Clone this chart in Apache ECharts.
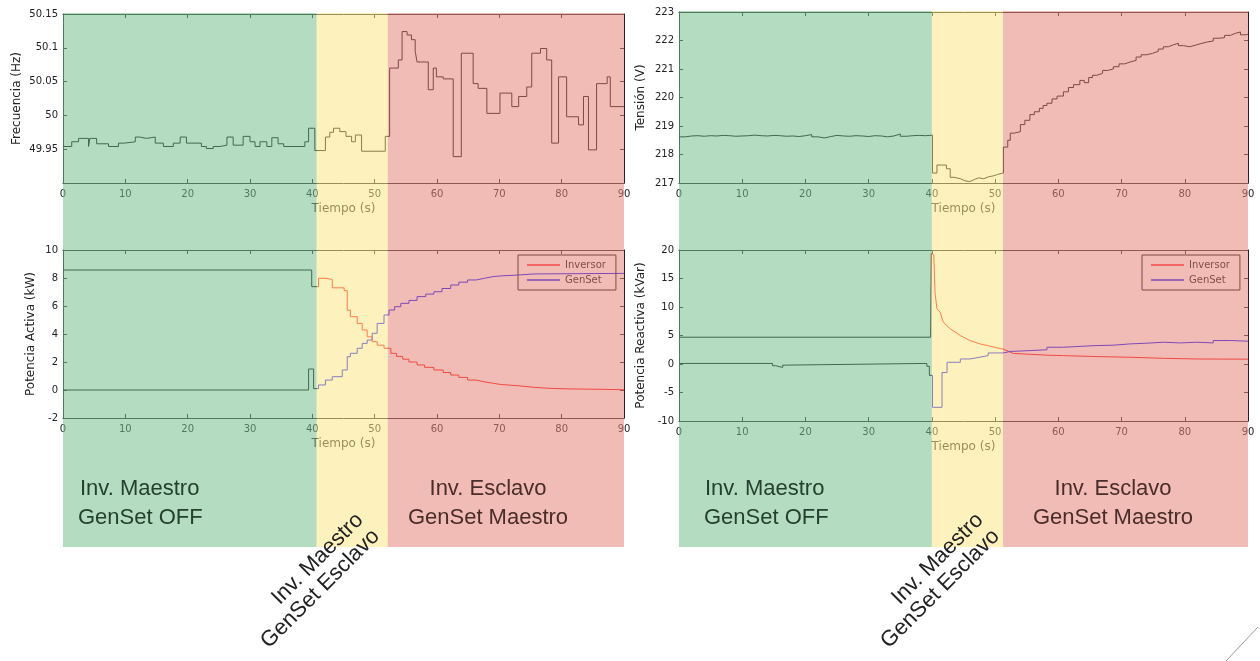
<!DOCTYPE html>
<html>
<head>
<meta charset="utf-8">
<script src="https://cdn.jsdelivr.net/npm/echarts@6/dist/echarts.min.js"></script>
<style>
  html, body { margin: 0; padding: 0; background: #ffffff; }
  #chart { width: 1260px; height: 661px; }
</style>
</head>
<body>
<div id="chart"></div>
<script>
// ---- Frecuencia (Hz): sample instants (s) and held values ----
const freqT = [0, 1.4, 2.5, 4.1, 4.3, 5.4, 7.3, 8.9, 9.9, 11.6, 12.3, 13.4, 14.8, 16.1, 17.7, 18.8, 19.8, 22.2, 23.0, 24.1,
  25.2, 26.3, 27.3, 28.9, 30.0, 30.8, 31.6, 32.7, 33.5, 34.5, 35.4, 38.8, 39.4, 40.4, 42.1, 42.8, 43.4, 44.4, 45.4, 46.3,
  46.9, 47.9, 51.7, 52.4, 53.8, 54.4, 55.2, 55.9, 56.5, 56.8, 58.6, 59.4, 59.9, 61.0, 62.6, 63.9, 65.8, 66.6, 68.0, 70.1,
  72.0, 73.1, 74.4, 75.2, 76.6, 77.6, 78.4, 79.5, 80.8, 82.7, 83.5, 84.3, 85.6, 87.3, 87.8, 90];
const freqV = [49.954, 49.961, 49.966, 49.954, 49.966, 49.958, 49.954, 49.959, 49.961, 49.968, 49.966, 49.968, 49.959, 49.954, 49.959, 49.968, 49.959, 49.954, 49.951, 49.954,
  49.956, 49.968, 49.956, 49.969, 49.961, 49.954, 49.961, 49.954, 49.967, 49.958, 49.954, 49.961, 49.981, 49.948, 49.968, 49.975, 49.981, 49.976, 49.969, 49.961,
  49.971, 49.947, 49.969, 50.070, 50.082, 50.124, 50.119, 50.112, 50.095, 50.079, 50.038, 50.070, 50.057, 50.054, 49.939, 50.092, 50.047, 50.040, 50.003, 50.033,
  50.013, 50.028, 50.042, 50.092, 50.099, 50.082, 49.959, 50.057, 49.998, 49.986, 50.028, 49.949, 50.047, 50.057, 50.013, 50.013];

// ---- Tensión (V) ----
const voltT = [0, 1, 2, 3, 4, 5, 6, 7, 8, 9, 10, 11, 12, 13, 14, 15, 16, 17, 18, 19,
  20, 21, 22, 23, 24, 25, 26, 27, 28, 29, 30, 31, 32, 33, 34, 35, 36, 37, 38, 39,
  40.1, 40.8, 41.5, 42.3, 42.9, 43.5, 44.5, 45.2, 46.0, 46.7, 47.4, 48.2, 49.0, 49.7, 50.4, 51.3, 52.0, 52.4, 53.0, 54.0,
  54.7, 55.5, 56.2, 57.0, 57.6, 58.2, 59.0, 59.8, 60.8, 61.6, 62.4, 63.4, 64.1, 64.8, 65.4, 66.1, 67.0, 67.8, 68.7, 69.6,
  70.5, 71.4, 72.3, 73.1, 74.0, 74.9, 75.8, 76.6, 77.4, 78.2, 79.0, 79.8, 80.8, 81.9, 82.7, 83.6, 84.5, 85.4, 86.3, 87.2,
  88.0, 88.8, 89.6, 90];
const voltV = [218.62, 218.65, 218.66, 218.64, 218.66, 218.65, 218.67, 218.66, 218.64, 218.65, 218.66, 218.68, 218.66, 218.65, 218.67, 218.66, 218.64, 218.65, 218.63, 218.66,
  218.70, 218.62, 218.58, 218.63, 218.67, 218.65, 218.64, 218.66, 218.65, 218.63, 218.66, 218.65, 218.62, 218.65, 218.72, 218.64, 218.66, 218.67, 218.66, 218.68,
  217.35, 217.63, 217.63, 217.50, 217.20, 217.15, 217.08, 217.05, 217.12, 217.18, 217.15, 217.22, 217.25, 217.30, 217.35, 218.26, 218.50, 218.75, 218.80, 219.05,
  219.20, 219.40, 219.50, 219.62, 219.72, 219.80, 219.95, 220.05, 220.20, 220.35, 220.45, 220.60, 220.52, 220.70, 220.78, 220.85, 220.95, 221.00, 221.08, 221.18,
  221.25, 221.30, 221.42, 221.50, 221.55, 221.62, 221.70, 221.78, 221.85, 221.90, 221.82, 221.78, 221.85, 221.90, 221.95, 221.98, 222.08, 222.10, 222.18, 222.25,
  222.30, 222.20, 222.22, 222.20];

// ---- Potencia Activa (kW) ----
const actInvT = [0, 39.9, 41.0, 42.1, 43.2, 45.1, 45.6, 46.1, 47.2, 48.0, 48.8, 49.6, 50.4, 51.5, 52.6, 53.5, 54.5, 55.5, 56.8, 58.0,
  59.5, 61.0, 62.2, 63.5, 64.9, 66.3, 67.6, 69.0, 70.3, 72.9, 75.6, 78.0, 81.0, 86.3, 90];
const actInvV = [8.57, 7.38, 7.98, 7.90, 7.30, 7.10, 5.70, 5.24, 4.76, 4.29, 3.80, 3.45, 3.20, 2.98, 2.62, 2.40, 2.20, 2.00, 1.79, 1.62,
  1.43, 1.25, 1.07, 0.90, 0.71, 0.58, 0.48, 0.39, 0.31, 0.19, 0.12, 0.08, 0.05, 0.02, 0.02];
const actGenT = [0, 39.4, 40.2, 41.0, 42.1, 43.2, 44.8, 45.6, 46.1, 47.2, 48.0, 48.8, 49.6, 50.4, 51.5, 52.3, 53.2, 54.2, 55.5, 56.8,
  58.2, 59.5, 60.8, 62.2, 63.5, 64.9, 66.3, 67.6, 69.0, 70.3, 72.9, 75.6, 90];
const actGenV = [0, 1.50, 0.10, 0.36, 0.71, 0.95, 1.43, 2.38, 2.62, 2.98, 3.33, 3.57, 4.05, 4.76, 5.36, 5.71, 5.95, 6.19, 6.40, 6.67,
  6.85, 7.02, 7.25, 7.50, 7.70, 7.86, 7.98, 8.10, 8.15, 8.21, 8.29, 8.33, 8.33];

// ---- Potencia Reactiva (kVar) ----
const reaInvT = [0, 39.8, 39.9, 40.3, 40.5, 40.8, 41.3, 41.8, 42.9, 44.5, 46.0, 47.6, 49.2, 51.3, 52.9, 55.5, 58.2, 60.8, 66.1, 71.4,
  76.6, 81.9, 90];
const reaInvV = [4.70, 4.70, 19.40, 19.10, 12.50, 9.70, 9.10, 7.35, 6.17, 5.00, 4.12, 3.53, 3.12, 2.60, 1.85, 1.70, 1.55, 1.47, 1.30, 1.18,
  1.00, 0.88, 0.85];
const reaGenT = [0, 14.8, 15.3, 16.4, 16.8, 39.2, 39.6, 40.1, 41.6, 42.4, 44.5, 46.0, 47.6, 48.9, 51.3, 52.4, 55.5, 58.2, 60.8, 66.1,
  68.7, 71.4, 74.0, 76.6, 79.3, 81.9, 84.5, 87.2, 90];
const reaGenV = [0.10, -0.30, -0.60, -0.20, 0.10, -0.40, -2.00, -7.60, -1.50, 0.30, 0.88, 1.20, 1.47, 1.94, 2.20, 2.35, 2.50, 2.94, 3.24, 3.30,
  3.53, 3.65, 3.82, 3.70, 3.82, 3.70, 4.12, 4.00, 3.94];

// ---- operating stages (s): master inverter / transition / master genset ----
const stagesLeft = [0, 40.7, 52.1, 90];
const stagesRight = [0, 40.0, 51.25, 90];
const stageColors = ['rgb(119,191,141)', 'rgb(251,230,137)', 'rgb(230,133,122)'];

const seriesNames = ['Inversor', 'GenSet'];
const seriesColors = ['#ff0000', '#0000ff'];

const pairs = (t, v) => t.map((x, i) => [x, v[i]]);

const FONT = 'DejaVu Sans';
const AXIS = '#222';

const grids = [
  { left: 63, top: 14, width: 561, height: 169 },   // frecuencia
  { left: 63, top: 250, width: 561, height: 168 },  // potencia activa
  { left: 679, top: 12, width: 569, height: 171 },  // tensión
  { left: 679, top: 250, width: 569, height: 171 }, // potencia reactiva
  { left: 63, top: 13, width: 561, height: 534 },   // stage bands, left
  { left: 679, top: 11, width: 569, height: 536 }   // stage bands, right
].map(g => Object.assign({ show: false, containLabel: false }, g));

function timeAxis(gi) {
  return {
    type: 'value', gridIndex: gi, min: 0, max: 90, interval: 10,
    name: 'Tiempo (s)', nameLocation: 'middle', nameGap: 20,
    nameTextStyle: { fontFamily: FONT, fontSize: 12, color: AXIS },
    axisLine: { show: true, onZero: false, lineStyle: { color: AXIS, width: 1 } },
    axisTick: { show: true, inside: true, length: 4, lineStyle: { color: AXIS } },
    axisLabel: { fontFamily: FONT, fontSize: 10, color: AXIS, margin: 6 },
    splitLine: { show: false }
  };
}
function mirrorX(gi) {
  return {
    type: 'value', gridIndex: gi, position: 'top', min: 0, max: 90, interval: 10,
    axisLine: { show: true, onZero: false, lineStyle: { color: AXIS, width: 1 } },
    axisTick: { show: true, inside: true, length: 4, lineStyle: { color: AXIS } },
    axisLabel: { show: false }, splitLine: { show: false }
  };
}
function valueAxis(gi, name, min, max, interval, gap, extra) {
  return Object.assign({
    type: 'value', gridIndex: gi, min, max, interval,
    name, nameLocation: 'middle', nameGap: gap, nameRotate: 90,
    nameTextStyle: { fontFamily: FONT, fontSize: 12, color: AXIS },
    axisLine: { show: true, onZero: false, lineStyle: { color: AXIS, width: 1 } },
    axisTick: { show: true, inside: true, length: 4, lineStyle: { color: AXIS } },
    axisLabel: { fontFamily: FONT, fontSize: 10, color: AXIS, margin: 5 },
    splitLine: { show: false }
  }, extra || {});
}
function mirrorY(gi, min, max, interval) {
  return {
    type: 'value', gridIndex: gi, position: 'right', min, max, interval,
    axisLine: { show: true, onZero: false, lineStyle: { color: AXIS, width: 1 } },
    axisTick: { show: true, inside: true, length: 4, lineStyle: { color: AXIS } },
    axisLabel: { show: false }, splitLine: { show: false }
  };
}
const hiddenX = gi => ({ type: 'value', gridIndex: gi, min: 0, max: 90, show: false });
const hiddenY = gi => ({ type: 'value', gridIndex: gi, min: 0, max: 1, show: false });

const xAxes = [timeAxis(0), timeAxis(1), timeAxis(2), timeAxis(3),
  mirrorX(0), mirrorX(1), mirrorX(2), mirrorX(3), hiddenX(4), hiddenX(5)];
const yAxes = [
  valueAxis(0, 'Frecuencia (Hz)', 49.9, 50.15, 0.05, 40, {
    axisLabel: { fontFamily: FONT, fontSize: 10, color: AXIS, margin: 5, showMinLabel: false,
      formatter: v => String(+v.toFixed(2)) }
  }),
  valueAxis(1, 'Potencia Activa (kW)', -2, 10, 2, 26),
  valueAxis(2, 'Tensión (V)', 217, 223, 1, 32),
  valueAxis(3, 'Potencia Reactiva (kVar)', -10, 20, 5, 32),
  mirrorY(0, 49.9, 50.15, 0.05), mirrorY(1, -2, 10, 2), mirrorY(2, 217, 223, 1), mirrorY(3, -10, 20, 5),
  hiddenY(4), hiddenY(5)
];

// stroke colour is given only for single-colour traces; the power traces take theirs from visualMap
function trace(name, xi, t, v, color, step, fixedStroke) {
  const lineStyle = { width: 1 };
  if (fixedStroke) lineStyle.color = color;
  return {
    type: 'line', name, xAxisIndex: xi, yAxisIndex: xi,
    data: pairs(t, v), step: step || false, showSymbol: false, symbol: 'none',
    lineStyle, itemStyle: { color }, z: 2, silent: true
  };
}

// translucent stage bands laid over the plots on their own layer
function stageBands(xi, breaks) {
  const areas = [];
  for (let i = 0; i < breaks.length - 1; i++) {
    areas.push([
      { xAxis: breaks[i], yAxis: 0, itemStyle: { color: stageColors[i], opacity: 0.55 } },
      { xAxis: breaks[i + 1], yAxis: 1 }
    ]);
  }
  return {
    type: 'line', xAxisIndex: xi, yAxisIndex: xi, data: [], zlevel: 1, z: 1, silent: true,
    markArea: { silent: true, zlevel: 1, z: 1, data: areas }
  };
}

const series = [
  trace('Frecuencia', 0, freqT, freqV, '#000', 'end', true),
  trace(seriesNames[0], 1, actInvT, actInvV, seriesColors[0], 'end'),
  trace(seriesNames[1], 1, actGenT, actGenV, seriesColors[1], 'end'),
  trace('Tensión', 2, voltT, voltV, '#000', 'end', true),
  trace(seriesNames[0], 3, reaInvT, reaInvV, seriesColors[0], false),
  trace(seriesNames[1], 3, reaGenT, reaGenV, seriesColors[1], 'end'),
  stageBands(8, stagesLeft),
  stageBands(9, stagesRight)
];

// power traces are dark while the inverter is alone, coloured afterwards
const visualMap = [
  [1, stagesLeft[1], seriesColors[0]], [2, stagesLeft[1], seriesColors[1]],
  [4, 39.85, seriesColors[0]], [5, 39.85, seriesColors[1]]
].map(([si, cut, color]) => ({
  type: 'piecewise', show: false, dimension: 0, seriesIndex: si,
  pieces: [{ gte: -10, lt: cut, color: '#000' }, { gte: cut, lte: 100, color }]
}));

function legendAt(left) {
  return {
    left, top: 255, orient: 'vertical', z: 4,
    data: seriesNames.map((n, i) => ({ name: n, icon: 'rect', itemStyle: { color: seriesColors[i] } })),
    itemWidth: 33, itemHeight: 1.5, itemGap: 3, padding: [4, 10, 4, 9],
    borderColor: '#000', borderWidth: 1, backgroundColor: 'transparent',
    textStyle: { fontFamily: FONT, fontSize: 10, color: '#000', lineHeight: 12 },
    selectedMode: false
  };
}

const boxFont = 'Liberation Sans, Arial, sans-serif';
function boxText(x, y, text, color, align) {
  return { type: 'text', x, y, zlevel: 1, z: 100, silent: true,
    style: { text, fill: color, font: '22px ' + boxFont, align: align || 'left', verticalAlign: 'middle' } };
}
function slanted(x, y) {
  return { type: 'text', x, y, rotation: Math.PI / 4, zlevel: 1, z: 100, silent: true,
    style: { text: 'Inv. Maestro\nGenSet Esclavo', fill: '#222', font: '22px ' + boxFont,
      align: 'right', verticalAlign: 'middle', lineHeight: 23 } };
}

const GREEN_TXT = '#24402e', RED_TXT = '#4a2c29';
const graphic = [
  boxText(80, 489, 'Inv. Maestro', GREEN_TXT), boxText(78, 518, 'GenSet OFF', GREEN_TXT),
  boxText(488, 489, 'Inv. Esclavo', RED_TXT, 'center'), boxText(488, 518, 'GenSet Maestro', RED_TXT, 'center'),
  boxText(705, 489, 'Inv. Maestro', GREEN_TXT), boxText(704, 518, 'GenSet OFF', GREEN_TXT),
  boxText(1113, 489, 'Inv. Esclavo', RED_TXT, 'center'), boxText(1113, 518, 'GenSet Maestro', RED_TXT, 'center'),
  slanted(368, 525), slanted(988, 525),
  { type: 'line', zlevel: 1, z: 100, silent: true, shape: { x1: 1226, y1: 661, x2: 1258, y2: 627 },
    style: { stroke: '#999', lineWidth: 1 } }
];

const chart = echarts.init(document.getElementById('chart'), null, { renderer: 'canvas' });
chart.setOption({
  animation: false,
  backgroundColor: '#ffffff',
  grid: grids,
  xAxis: xAxes,
  yAxis: yAxes,
  legend: [legendAt(518), legendAt(1142)],
  visualMap,
  series,
  graphic
});
</script>
</body>
</html>
